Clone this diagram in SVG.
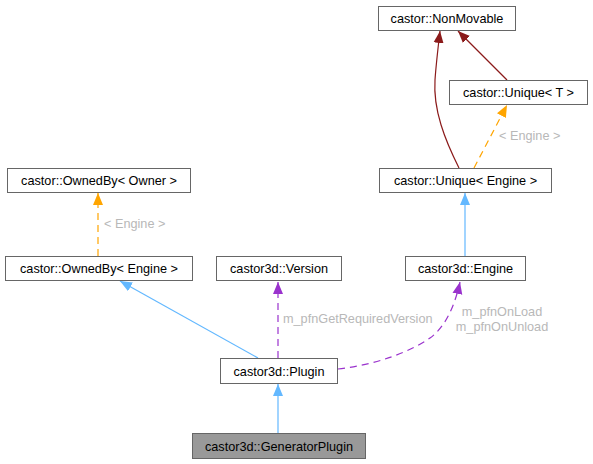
<svg xmlns="http://www.w3.org/2000/svg" width="593" height="464" viewBox="0 0 593 464">
<style>
.box{fill:#ffffff;stroke:#666666;stroke-width:1}
.sel{fill:#999999;stroke:#666666;stroke-width:1}
text{font-family:"Liberation Sans",Arial,sans-serif;font-size:12.7px;fill:#000000}
.nt{text-anchor:middle}
.lbl{fill:#b8b8b8}
.e{fill:none;stroke-width:1.2}
.blue{stroke:#63b8ff}
.orange{stroke:#ffa500;stroke-dasharray:7,5}
.purple{stroke:#9a32cd;stroke-dasharray:7,5}
.red{stroke:#8b1a1a}
</style>
<defs>
<marker id="aBlue" markerWidth="13" markerHeight="11" refX="12" refY="5.5" orient="auto" markerUnits="userSpaceOnUse"><path d="M0,0.5 L12,5.5 L0,10.5 z" fill="#63b8ff"/></marker>
<marker id="aOrange" markerWidth="13" markerHeight="11" refX="12" refY="5.5" orient="auto" markerUnits="userSpaceOnUse"><path d="M0,0.5 L12,5.5 L0,10.5 z" fill="#ffa500"/></marker>
<marker id="aPurple" markerWidth="13" markerHeight="11" refX="12" refY="5.5" orient="auto" markerUnits="userSpaceOnUse"><path d="M0,0.5 L12,5.5 L0,10.5 z" fill="#9a32cd"/></marker>
<marker id="aRed" markerWidth="13" markerHeight="11" refX="12" refY="5.5" orient="auto" markerUnits="userSpaceOnUse"><path d="M0,0.5 L12,5.5 L0,10.5 z" fill="#8b1a1a"/></marker>
</defs>
<g id="edges">
<path class="e red" d="M459,168 C445,140 433,110 435,80 C436,65 438,48 440,31" marker-end="url(#aRed)"/>
<path class="e red" d="M507,80 L458,31" marker-end="url(#aRed)"/>
<path class="e orange" d="M474,168 L507,105" marker-end="url(#aOrange)"/>
<text class="lbl" x="499" y="140">&lt; Engine &gt;</text>
<path class="e blue" d="M465,257 L465,193" marker-end="url(#aBlue)"/>
<path class="e orange" d="M98,256 L98,193" marker-end="url(#aOrange)"/>
<text class="lbl" x="104" y="228">&lt; Engine &gt;</text>
<path class="e blue" d="M258,358 L120,281" marker-end="url(#aBlue)"/>
<path class="e purple" d="M278,358 L278,282" marker-end="url(#aPurple)"/>
<text class="lbl" x="283" y="323">m_pfnGetRequiredVersion</text>
<path class="e purple" d="M338,369 C375,365 410,352 430,338 C448,325 456,300 460,282" marker-end="url(#aPurple)"/>
<text class="lbl nt" x="502" y="316">m_pfnOnLoad</text>
<text class="lbl nt" x="502" y="331">m_pfnOnUnload</text>
<path class="e blue" d="M278,433 L278,384" marker-end="url(#aBlue)"/>
</g>
<g id="n_nonmovable"><rect class="box" x="378.5" y="6.5" width="137" height="24"/><text class="nt" x="447" y="23">castor::NonMovable</text></g>
<g id="n_uniqueT"><rect class="box" x="449.5" y="80.5" width="138" height="24"/><text class="nt" x="518.5" y="97">castor::Unique&lt; T &gt;</text></g>
<g id="n_uniqueEngine"><rect class="box" x="379.5" y="168.5" width="172" height="24"/><text class="nt" x="465.5" y="185">castor::Unique&lt; Engine &gt;</text></g>
<g id="n_ownedByOwner"><rect class="box" x="7.5" y="168.5" width="183" height="24"/><text class="nt" x="99" y="185">castor::OwnedBy&lt; Owner &gt;</text></g>
<g id="n_ownedByEngine"><rect class="box" x="5.5" y="256.5" width="187" height="24"/><text class="nt" x="99" y="273">castor::OwnedBy&lt; Engine &gt;</text></g>
<g id="n_version"><rect class="box" x="216.5" y="256.5" width="125" height="24"/><text class="nt" x="279" y="273">castor3d::Version</text></g>
<g id="n_engine"><rect class="box" x="405.5" y="256.5" width="120" height="24"/><text class="nt" x="465.5" y="273">castor3d::Engine</text></g>
<g id="n_plugin"><rect class="box" x="220.5" y="358.5" width="117" height="25"/><text class="nt" x="279" y="375.5">castor3d::Plugin</text></g>
<g id="n_generator"><rect class="sel" x="192.5" y="433.5" width="173" height="25"/><text class="nt" x="279" y="450.5">castor3d::GeneratorPlugin</text></g>
</svg>
